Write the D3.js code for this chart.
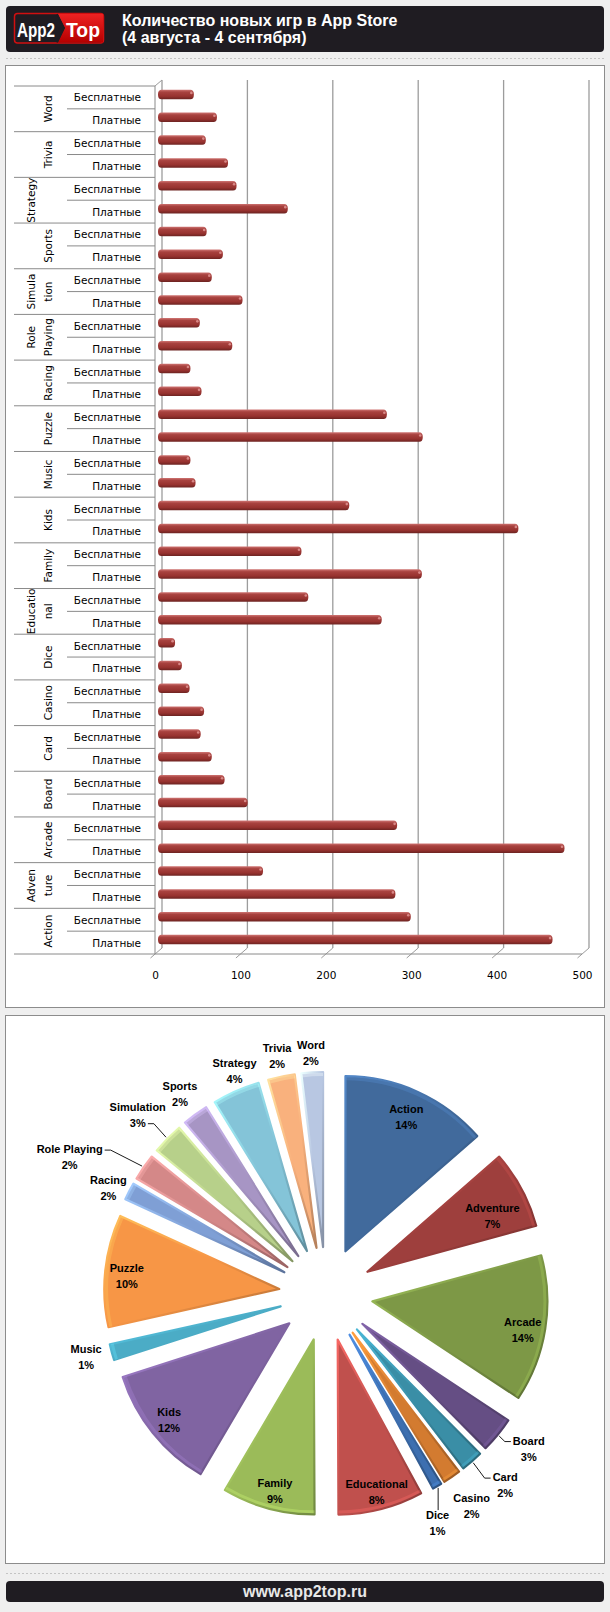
<!DOCTYPE html>
<html>
<head>
<meta charset="utf-8">
<script src="https://cdnjs.cloudflare.com/ajax/libs/d3/7.8.5/d3.min.js"></script>
<style>
    body{margin:0;background:#efefef;}
    svg{display:block;}
</style>
</head>
<body>
<div id="chart"></div>
<script>
// категории сверху вниз, как на графике
var categories = ["Word","Trivia","Strategy","Sports","Simulation","Role Playing","Racing","Puzzle","Music","Kids","Family","Educational","Dice","Casino","Card","Board","Arcade","Adventure","Action"];
// подписи оси (с переносами как в Excel)
var catLines = [["Word"],["Trivia"],["Strategy",""],["Sports"],["Simula","tion"],["Role","Playing"],["Racing"],["Puzzle"],["Music"],["Kids"],["Family"],["Educatio","nal"],["Dice"],["Casino"],["Card"],["Board"],["Arcade"],["Adven","ture"],["Action"]];
var seriesNames = ["Бесплатные","Платные"];
var freeGames = [42,56,92,57,63,49,38,268,38,224,168,176,20,37,50,78,280,123,296];
var paidGames = [69,82,152,76,99,87,51,310,44,422,309,262,28,54,63,105,476,278,462];
var xTicks = [0,100,200,300,400,500];

// цвета секторов (порядок Action ... Word)
var pieColors = ["#416a9c","#9e3f3d","#7d9846","#654e84","#3a8ea6","#d37b30",
                 "#3d6fb0","#c0504d","#9bbb59","#8064a2","#4bacc6","#f79646",
                 "#7f9fd5","#d48888","#b7d08a","#a795c4","#84c4d8","#f9b17d","#b8c7e2"];
// положение подписей секторов
var labelRadius = [147,137,153,208,215,210,208,157,157,154,201,153,195,244,213,201,194,196,194];
var labelShift  = [0,4,1.7,-2.5,-2.5,0,5,0,-0.8,0,0.6,-1,-2,-8,-1,0,2,0,0];
var leaderType  = ["","","","name","name","","top","","","","","","","name","pct","","","",""];

var W = 610, H = 1612;
var svg = d3.select("#chart").append("svg").attr("width", W).attr("height", H);
var defs = svg.append("defs");

/* ---------- шапка ---------- */
svg.append("rect").attr("x",6).attr("y",6).attr("width",598).attr("height",46).attr("rx",4).attr("fill","#1f1c22");
var rg = defs.append("linearGradient").attr("id","logoRed").attr("x1",0).attr("y1",0).attr("x2",0).attr("y2",1);
rg.append("stop").attr("offset","0%").attr("stop-color","#ee2222");
rg.append("stop").attr("offset","100%").attr("stop-color","#b40000");
svg.append("rect").attr("x",14.5).attr("y",13.5).attr("width",89).attr("height",29.5).attr("rx",3)
    .attr("fill","#1f1c22").attr("stroke","#d10f10").attr("stroke-width",1.5);
svg.append("path").attr("d","M58,14 L103,14 L103,42.5 L58,42.5 L65,28 Z").attr("fill","url(#logoRed)");
svg.append("path").attr("d","M57,14 L64,28 L57,42.5").attr("fill","none").attr("stroke","#1f1c22").attr("stroke-width",1.5);
svg.append("text").attr("x",17).attr("y",37).attr("textLength",38).attr("lengthAdjust","spacingAndGlyphs")
    .attr("font-family","Liberation Sans, Arial").attr("font-weight","bold").attr("font-size",21).attr("fill","#fff").text("App2");
svg.append("text").attr("x",66).attr("y",37).attr("textLength",34).attr("lengthAdjust","spacingAndGlyphs")
    .attr("font-family","Liberation Sans, Arial").attr("font-weight","bold").attr("font-size",21).attr("fill","#fff").text("Top");
svg.append("text").attr("x",122).attr("y",26).attr("font-family","Liberation Sans, Arial").attr("font-weight","bold")
    .attr("font-size",16).attr("fill","#fff").text("Количество новых игр в App Store");
svg.append("text").attr("x",122).attr("y",43).attr("font-family","Liberation Sans, Arial").attr("font-weight","bold")
    .attr("font-size",16).attr("fill","#fff").text("(4 августа - 4 сентября)");

[58.5,1573.5].forEach(function(y){
    svg.append("line").attr("x1",6).attr("x2",604).attr("y1",y).attr("y2",y)
        .attr("stroke","#c4c4c4").attr("stroke-dasharray","2,2");
});

/* ---------- столбчатая диаграмма ---------- */
svg.append("rect").attr("x",5.5).attr("y",65.5).attr("width",599).attr("height",942)
    .attr("fill","#fff").attr("stroke","#8c8c8c");

var rows = [];
categories.forEach(function(c,i){
    rows.push({cat:c, series:seriesNames[0], value:freeGames[i]});
    rows.push({cat:c, series:seriesNames[1], value:paidGames[i]});
});
var plotTop = 86, plotBottom = 954, dx = 7, dy = -6;
var y = d3.scaleBand().domain(d3.range(rows.length)).range([plotTop,plotBottom]);
var xFront = d3.scaleLinear().domain([0,500]).range([155,582]);
var xBack = d3.scaleLinear().domain([0,500]).range([155+dx,582+dx]);
var xMid = d3.scaleLinear().domain([0,500]).range([158,585]);
var bw = y.bandwidth();
var font = "DejaVu Sans, Verdana, sans-serif";
var lineCol = "#8a8a8a";

// сетка на задней стенке
xTicks.forEach(function(t){
    svg.append("line").attr("x1",xBack(t)).attr("x2",xBack(t)).attr("y1",plotTop+dy).attr("y2",plotBottom+dy)
        .attr("stroke","#9c9c9c").attr("stroke-width",1.3);
    svg.append("line").attr("x1",xFront(t)-4.5).attr("y1",plotBottom+4).attr("x2",xBack(t)).attr("y2",plotBottom+dy)
        .attr("stroke","#9c9c9c");
});
svg.append("line").attr("x1",xFront(0)).attr("y1",plotTop).attr("x2",xBack(0)).attr("y2",plotTop+dy).attr("stroke","#9c9c9c");
svg.append("line").attr("x1",xFront(0)).attr("y1",plotTop).attr("x2",xFront(0)).attr("y2",plotBottom).attr("stroke",lineCol);

// разделители категорий
for(var k=0;k<=categories.length;k++){
    var yy = plotTop + 2*bw*k;
    svg.append("line").attr("x1",14).attr("x2",k==categories.length?xFront(500):xFront(0)).attr("y1",yy).attr("y2",yy)
        .attr("stroke",lineCol);
    if(k<categories.length){
        svg.append("line").attr("x1",67).attr("x2",xFront(0)).attr("y1",yy+bw).attr("y2",yy+bw).attr("stroke",lineCol);
    }
}

// подписи рядов
svg.selectAll("text.row").data(rows).enter().append("text").attr("class","row")
    .attr("x",141).attr("y",function(d,i){return y(i)+bw/2+4;})
    .attr("text-anchor","end").attr("font-family",font).attr("font-size",10.5).attr("fill","#000")
    .text(function(d){return d.series;});

// подписи категорий (повернутые)
catLines.forEach(function(lines,i){
    var yc = plotTop + 2*bw*i + bw;
    lines.forEach(function(t,j){
        var xc = lines.length==1 ? 48 : (j==0 ? 31 : 48);
        svg.append("text").attr("transform","translate("+xc+","+yc+") rotate(-90)")
            .attr("text-anchor","middle").attr("dominant-baseline","central")
            .attr("font-family",font).attr("font-size",10.5).attr("fill","#000").text(t);
    });
});

// градиент цилиндров
var bg = defs.append("linearGradient").attr("id","barGrad").attr("x1",0).attr("y1",0).attr("x2",0).attr("y2",1);
bg.append("stop").attr("offset","0%").attr("stop-color","#cf7573");
bg.append("stop").attr("offset","25%").attr("stop-color","#a8423f");
bg.append("stop").attr("offset","70%").attr("stop-color","#97322f");
bg.append("stop").attr("offset","100%").attr("stop-color","#6c2321");

var bh = 9.5;
svg.selectAll("rect.bar").data(rows).enter().append("rect").attr("class","bar")
    .attr("x",xMid(0)).attr("y",function(d,i){return y(i)+bw/2-3-bh/2;})
    .attr("width",function(d){return xMid(d.value)-xMid(0);})
    .attr("height",bh).attr("rx",3.5).attr("ry",4.5)
    .attr("fill","url(#barGrad)");
// блик на торце
svg.selectAll("ellipse.cap").data(rows).enter().append("ellipse").attr("class","cap")
    .attr("cx",function(d){return xMid(d.value)-2.5;}).attr("cy",function(d,i){return y(i)+bw/2-3-1.5;})
    .attr("rx",1.3).attr("ry",1.3).attr("fill","#e69a98").attr("opacity",0.8);

// ось X
var ax = svg.append("g").attr("transform","translate(0,971.5)")
    .call(d3.axisBottom(xFront).tickValues(xTicks).tickSize(0).tickPadding(0));
ax.select(".domain").remove();
ax.selectAll("text").attr("font-family",font).attr("font-size",10.5).attr("fill","#000");

/* ---------- круговая диаграмма ---------- */
svg.append("rect").attr("x",5.5).attr("y",1015.5).attr("width",599).attr("height",548)
    .attr("fill","#fff").attr("stroke","#8c8c8c");

var pieData = categories.map(function(c,i){return {name:c, value:freeGames[i]+paidGames[i]};}).reverse();
var total = d3.sum(pieData, function(d){return d.value;});
var pct = d3.format(".0%");
var cx = 326, cy = 1294, R = 175, explode = 47;
var pie = d3.pie().sort(null).value(function(d){return d.value;});
var arc = d3.arc().innerRadius(0).outerRadius(R);
var rim = d3.arc().innerRadius(R-4).outerRadius(R-1);
var pieG = svg.append("g");
var labelG = svg.append("g");

pie(pieData).forEach(function(a,i){
    var c = pieColors[i];
    var mid = (a.startAngle+a.endAngle)/2;
    var ox = cx + explode*Math.sin(mid), oy = cy - explode*Math.cos(mid);
    var gr = defs.append("linearGradient").attr("id","pg"+i).attr("x1",0).attr("y1",0).attr("x2",1).attr("y2",1);
    gr.append("stop").attr("offset","0%").attr("stop-color",d3.color(c).brighter(0.7));
    gr.append("stop").attr("offset","50%").attr("stop-color",c);
    gr.append("stop").attr("offset","100%").attr("stop-color",d3.color(c).darker(0.9));
    var g = pieG.append("g").attr("transform","translate("+ox+","+oy+")");
    g.append("path").attr("d",arc(a)).attr("fill",c).attr("stroke","url(#pg"+i+")").attr("stroke-width",2.2)
        .attr("stroke-linejoin","round");
    g.append("path").attr("d",rim(a)).attr("fill",d3.color(c).brighter(0.8)).attr("opacity",0.35);

    // подпись
    var ang = mid + labelShift[i]*Math.PI/180;
    var lx = ox + labelRadius[i]*Math.sin(ang), ly = oy - labelRadius[i]*Math.cos(ang);
    var tName = labelG.append("text").attr("x",lx).attr("y",ly-4).attr("text-anchor","middle")
        .attr("font-family","Liberation Sans, Arial").attr("font-weight","bold").attr("font-size",11)
        .attr("fill","#000").text(a.data.name);
    var tPct = labelG.append("text").attr("x",lx).attr("y",ly+12).attr("text-anchor","middle")
        .attr("font-family","Liberation Sans, Arial").attr("font-weight","bold").attr("font-size",11)
        .attr("fill","#000").text(pct(a.data.value/total));

    // линии-выноски
    if(leaderType[i]){
        var sx = ox + (R+2)*Math.sin(mid), sy = oy - (R+2)*Math.cos(mid);
        var p;
        if(leaderType[i]=="top"){
            var b = tName.node().getBBox();
            p = "M"+sx+","+sy+" L"+sx+","+(b.y+1);
        }else{
            var t = leaderType[i]=="name" ? tName : tPct;
            var b = t.node().getBBox();
            var ly2 = b.y + b.height/2 + 1;
            var ex, el;
            if(lx>cx){ ex = b.x-2; el = ex-6; } else { ex = b.x+b.width+2; el = ex+6; }
            p = "M"+sx+","+sy+" L"+el+","+ly2+" L"+ex+","+ly2;
        }
        labelG.append("path").attr("d",p).attr("fill","none").attr("stroke","#000").attr("stroke-width",0.9);
    }
});

/* ---------- подвал ---------- */
svg.append("rect").attr("x",6).attr("y",1581).attr("width",598).attr("height",21).attr("rx",4).attr("fill","#1f1c22");
svg.append("text").attr("x",305).attr("y",1597).attr("text-anchor","middle")
    .attr("font-family","Liberation Sans, Arial").attr("font-weight","bold").attr("font-size",16)
    .attr("fill","#e8e8e8").text("www.app2top.ru");
</script>
</body>
</html>
